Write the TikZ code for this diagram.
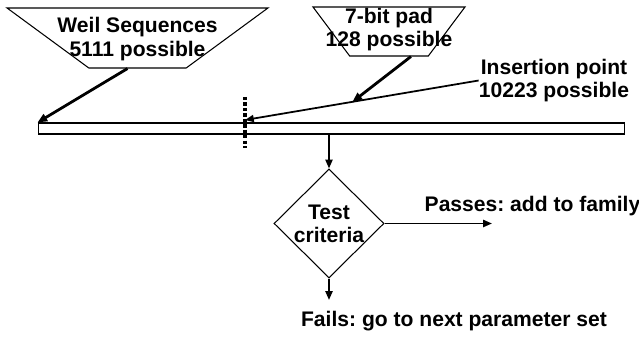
\documentclass[tikz,border=0pt]{standalone}
\usepackage{fontspec}
\setmainfont{Liberation Sans}
\frenchspacing
\usetikzlibrary{shapes.geometric, positioning, arrows.meta}

\begin{document}
\begin{tikzpicture}[x=0.02cm, y=-0.02cm, font=\fontsize{12}{13}\selectfont\bfseries]
    \tikzset{source/.style={trapezium, shape border rotate=180, trapezium stretches=true, draw=black, line width=0.6pt, inner sep=1pt}}
    \tikzset{decide/.style={diamond, draw=black, line width=0.6pt, inner sep=0pt, align=center, minimum width=2.2cm, minimum height=2.18cm}}
    \tikzset{note/.style={align=center, inner sep=0pt}}
    \tikzset{feed/.style={-{Triangle[length=5.5pt,width=4.5pt]}, line width=1.6pt}}
    \tikzset{flow/.style={-{Triangle[length=5pt,width=4pt]}, line width=1.1pt}}
    \tikzset{cutline/.style={line width=2pt, dash pattern=on 1.9pt off 1.2pt}}
    \useasboundingbox (0,0) rectangle (639,337);
    % Sources
    \node[source, minimum width=5.22cm, minimum height=1.2cm, trapezium left angle=50, trapezium right angle=50] (weil) at (137.5,38) {};
    \node[note] (weil text) at ([yshift=-0.5pt]weil.center) {Weil Sequences\\[1pt]5111 possible};
    \node[source, minimum width=3.04cm, minimum height=0.98cm, trapezium left angle=65, trapezium right angle=65] (pad) at (389,31.5) {};
    \node[note] (pad text) at ([yshift=1pt]pad.center) {7-bit pad\\128 possible};
    \node[note] (ins) at (554,80.5) {Insertion point\\10223 possible};
    % Sequence bar
    \node[draw, line width=0.6pt, minimum width=11.74cm, minimum height=0.22cm, inner sep=0pt] (bar) at (331.5,128.5) {};
    \coordinate (cut top) at (245,97);
    \coordinate (cut bot) at (245,148);
    \coordinate (ins pt) at (245,120);
    \draw[cutline] (cut top) -- (cut bot);
    \draw[-{Triangle[length=5pt,width=4pt]}, line width=1pt] (ins.west) -- (ins pt) coordinate[pos=0.54] (on ins);
    \draw[feed] ([xshift=-5.7pt]weil.south) -- (bar.north west);
    \draw[feed] ([xshift=12.5pt]pad.south) -- (on ins);
    % Test
    \node[decide] (test) at (329,223.5) {Test\\criteria};
    \coordinate (pass) at (492,223.5);
    \coordinate (fail) at (329,300);
    \draw[flow] (test.north |- bar.south) -- (test.north);
    \draw[flow] (test.east) -- (pass);
    \draw[flow] (test.south) -- (fail);
    \node[note] (pass text) at (532.5,206) {Passes: add to family};
    \node[note] (fail text) at (454,321) {Fails: go to next parameter set};
\end{tikzpicture}
\end{document}
